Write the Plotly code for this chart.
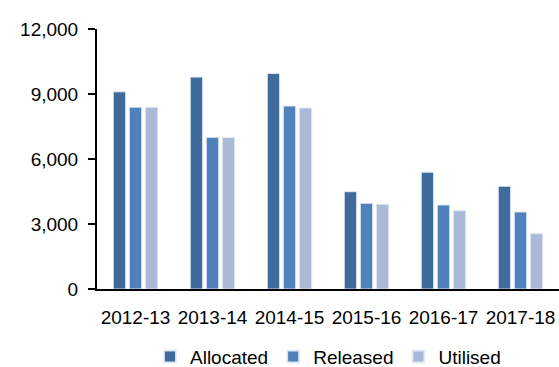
import plotly.graph_objects as go

years = ["2012-13", "2013-14", "2014-15", "2015-16", "2016-17", "2017-18"]
allocated = [9100, 9780, 9950, 4490, 5390, 4740]
released = [8390, 7000, 8445, 3955, 3880, 3555]
utilised = [8385, 6990, 8355, 3910, 3615, 2555]

series = [
    ("Allocated", allocated, "#3F6A9C"),
    ("Released", released, "#4F81BD"),
    ("Utilised", utilised, "#AAB9D7"),
]

fig = go.Figure()
for name, vals, col in series:
    fig.add_trace(go.Bar(
        x=years, y=vals, name=name,
        marker=dict(color=col, line=dict(color="rgba(230,236,245,0.9)", width=1)),
    ))

font = dict(family="Liberation Sans, Arial, sans-serif", size=19, color="#000000")
fig.update_layout(
    width=559, height=367,
    margin=dict(l=97, r=0, t=29, b=78, autoexpand=False),
    paper_bgcolor="white", plot_bgcolor="white",
    barmode="group", bargap=0.375, bargroupgap=0.23,
    font=font,
    showlegend=True,
    legend=dict(orientation="h", x=0.5, xanchor="center",
                yref="container", y=0.028, yanchor="middle",
                font=font, itemsizing="constant", traceorder="normal"),
    xaxis=dict(showline=True, linecolor="black", linewidth=2, ticks="",
               tickfont=font, showgrid=False, ticklabelstandoff=10,
               tickangle=0, automargin=False),
    yaxis=dict(range=[0, 12000], tickvals=[0, 3000, 6000, 9000, 12000],
               tickformat=",d", showline=True, linecolor="black", linewidth=2,
               ticks="outside", ticklen=7, tickwidth=2, tickcolor="black",
               showgrid=False, zeroline=False, tickfont=font, ticklabelstandoff=6,
               automargin=False),
)
fig.write_html("out.html")
